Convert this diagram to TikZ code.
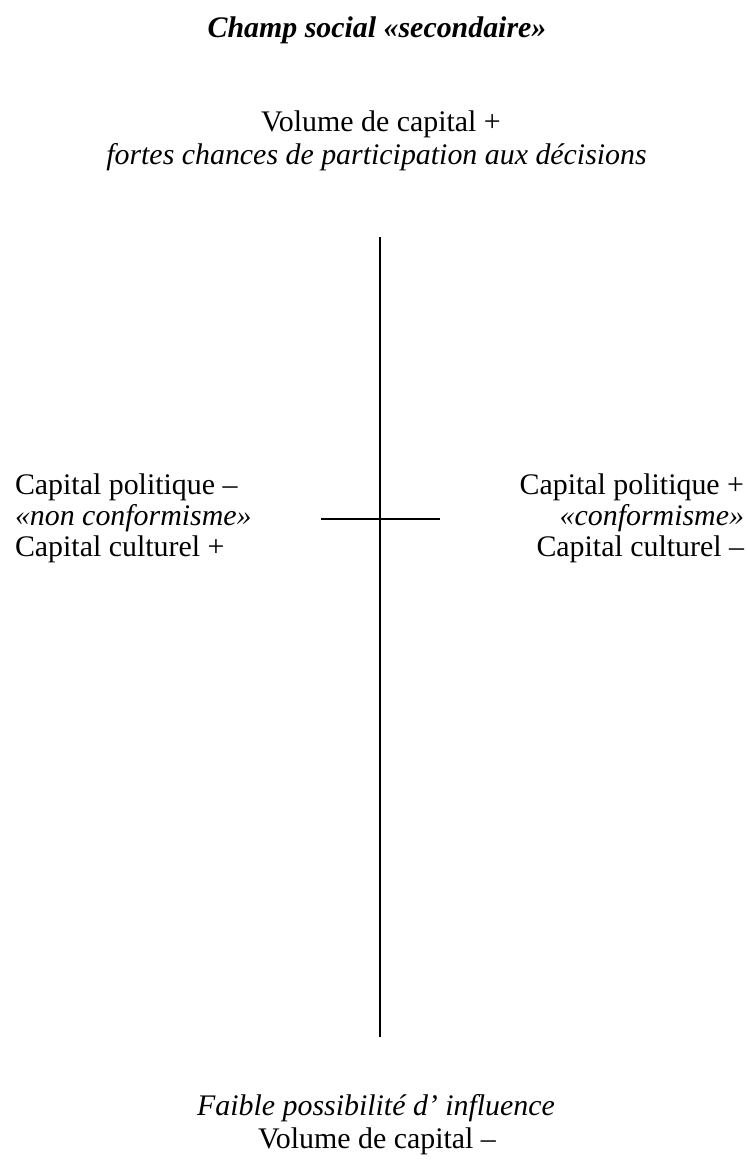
\documentclass[tikz,border=0pt]{standalone}
\usepackage{fontspec}
\setmainfont{Liberation Serif}
\begin{document}
\begin{tikzpicture}[x=1bp,y=-1bp,
  lbl/.style={inner sep=0pt,outer sep=0pt,font=\fontsize{30}{33}\selectfont},
  axis/.style={line width=2.2bp,black}]
\useasboundingbox (0,0) rectangle (747,1160);
% top
\node[lbl,anchor=base] (title) at (377,37) {\textbf{\textit{Champ social «secondaire»}}};
\node[lbl,anchor=base] (volplus) at (381,131) {Volume de capital +};
\node[lbl,anchor=base] (fortes) at (376.5,164) {\textit{fortes chances de participation aux décisions}};
% left
\node[lbl,anchor=base west] (lpol) at (15,494) {Capital politique –};
\node[lbl,anchor=base west] (lconf) at (15,525) {\textit{«non conformisme»}};
\node[lbl,anchor=base west] (lcult) at (15,556) {Capital culturel +};
% right
\node[lbl,anchor=base east] (rpol) at (744,494) {Capital politique +};
\node[lbl,anchor=base east] (rconf) at (744,525) {\textit{«conformisme»}};
\node[lbl,anchor=base east] (rcult) at (744,556) {Capital culturel –};
% bottom
\node[lbl,anchor=base] (faible) at (376,1115) {\textit{Faible possibilité d’ influence}};
\node[lbl,anchor=base] (volmoins) at (377,1148) {Volume de capital –};
% axes
\coordinate (vtop) at (380,237);
\coordinate (vbot) at (380,1037);
\coordinate (hleft) at (321,519);
\coordinate (hright) at (440,519);
\draw[axis] (vtop) -- (vbot);
\draw[axis] (hleft) -- (hright);
\end{tikzpicture}
\end{document}
